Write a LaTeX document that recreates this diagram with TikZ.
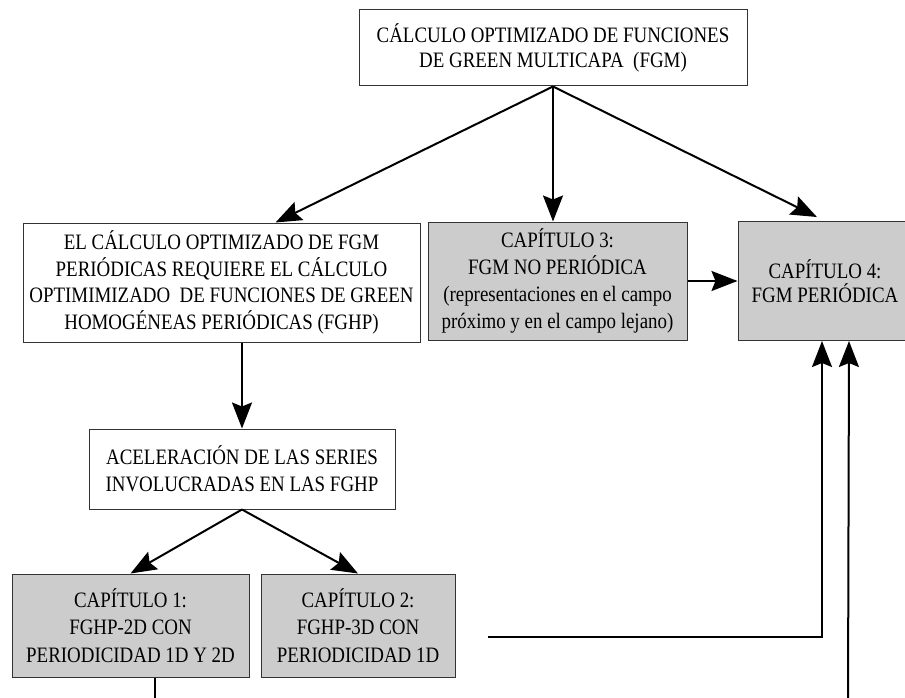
\documentclass[tikz,border=0pt]{standalone}
\usepackage{fontspec}
\setmainfont{Liberation Serif}[FakeStretch=0.86]
\usepackage{tikz}
\usetikzlibrary{arrows.meta,calc,positioning}
\definecolor{CapGray}{HTML}{CCCCCC}
\definecolor{EdgeInk}{HTML}{333333}
\tikzset{
  >={Stealth[length=26pt,width=20pt,inset=4pt]},
  flow/.style={->,line width=2pt,draw=black},
  plainflow/.style={line width=2pt,draw=black},
  box/.style={draw=EdgeInk,fill=white,line width=1pt,
    align=center,inner sep=0pt,font=\fontsize{22}{26.5}\selectfont},
  capbox/.style={box,fill=CapGray}
}

\begin{document}
\begin{tikzpicture}[x=1pt,y=-1pt]
        \clip (0,0) rectangle (905,698);
        \node[box,minimum width=388pt,minimum height=76pt,font=\fontsize{22}{25}\selectfont] (fgm) at (553,48) {CÁLCULO OPTIMIZADO DE FUNCIONES\\DE GREEN MULTICAPA\ \ (FGM)};
        \node[box,minimum width=397pt,minimum height=119pt] (period) at (221.5,282.5) {EL CÁLCULO OPTIMIZADO DE FGM\\PERIÓDICAS REQUIERE EL CÁLCULO\\OPTIMIMIZADO\ \ DE FUNCIONES DE GREEN\\HOMOGÉNEAS PERIÓDICAS (FGHP)};
        \node[capbox,minimum width=259pt,minimum height=118pt,font=\fontsize{22}{27}\selectfont] (cap3) at (557.5,281) {CAPÍTULO 3:\\FGM NO PERIÓDICA\\(representaciones en el campo\\próximo y en el campo lejano)};
        \node[capbox,minimum width=174pt,minimum height=119pt,font=\fontsize{22}{24}\selectfont,right=50pt of cap3] (cap4) {CAPÍTULO 4:\\FGM PERIÓDICA};
        \node[box,minimum width=306pt,minimum height=80pt,font=\fontsize{22}{27}\selectfont] (accel) at (242,469) {ACELERACIÓN DE LAS SERIES\\INVOLUCRADAS EN LAS FGHP};
        \node[capbox,minimum width=237pt,minimum height=103pt,font=\fontsize{22}{27.5}\selectfont] (cap1) at (130.5,625.5) {CAPÍTULO 1:\\FGHP-2D CON\\PERIODICIDAD 1D Y 2D};
        \node[capbox,minimum width=194pt,minimum height=103pt,font=\fontsize{22}{27.5}\selectfont,right=11pt of cap1] (cap2) {CAPÍTULO 2:\\FGHP-3D CON\\PERIODICIDAD 1D};
        \coordinate (cap2out) at (488,637);
        \coordinate (cap1end) at (155,705);
        \coordinate (farend) at (848,705);
        \draw[flow] (fgm.south) -- (period.48);
        \draw[flow] (fgm.south) -- (fgm.south |- cap3.north);
        \draw[flow,shorten >=9pt] (fgm.south) -- (cap4.north);
        \draw[flow] (cap3.east) -- (cap4.west);
        \draw[flow] (accel.north |- period.south) -- (accel.north);
        \draw[flow] (accel.south) -- (cap1.north);
        \draw[flow] (accel.south) -- (cap2.north);
        \draw[flow] (cap2out) -| ([xshift=-3pt]cap4.south);
        \draw[flow] (farend) -- ([xshift=24pt]cap4.south);
        \draw[plainflow] (cap1.south -| cap1end) -- (cap1end);
      \end{tikzpicture}
\end{document}
